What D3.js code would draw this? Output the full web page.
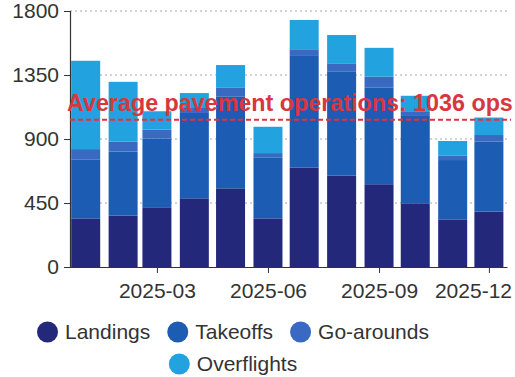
<!DOCTYPE html>
<html>
<head>
<meta charset="utf-8">
<script src="https://cdn.jsdelivr.net/npm/d3@7"></script>
<style>
  html, body { margin: 0; padding: 0; background: #fff; }
  svg { display: block; font-family: "Liberation Sans", Arial, sans-serif; }
</style>
</head>
<body>
<svg id="chart" width="515" height="377"></svg>
<script>
// Monthly operations, stacked by type
const months = ["2025-01","2025-02","2025-03","2025-04","2025-05","2025-06",
                "2025-07","2025-08","2025-09","2025-10","2025-11","2025-12"];
const landings    = [342, 361, 420, 483, 553, 342, 698, 642, 582, 448, 335, 389];
const takeoffs    = [415, 451, 484, 600, 647, 426, 786, 734, 681, 614, 417, 492];
const goArounds   = [ 72,  69,  62,  35,  63,  33,  47,  56,  75,  28,  30,  47];
const overflights = [621, 421, 129, 105, 157, 185, 206, 199, 203, 114, 104, 123];

const seriesNames = ["Landings", "Takeoffs", "Go-arounds", "Overflights"];
const seriesColors = ["#23287a", "#1c5cb3", "#3a69c2", "#22a2de"];

const yTicks = [0, 450, 900, 1350, 1800];
const xTickLabels = ["2025-03", "2025-06", "2025-09", "2025-12"];

const avgPavementOps = 1036;
const avgLabel = "Average pavement operations: " + avgPavementOps + " ops";

const parseMonth = d3.utcParse("%Y-%m");
const fmtMonth = d3.utcFormat("%Y-%m");

const rows = months.map((m, i) => ({
  date: parseMonth(m),
  Landings: landings[i],
  Takeoffs: takeoffs[i],
  "Go-arounds": goArounds[i],
  Overflights: overflights[i]
}));

const svg = d3.select("#chart");
const margin = { left: 70, right: 8, top: 11, bottom: 110 };
const W = 515, H = 377;
const plotBottom = H - margin.bottom;
const tickFont = "21px";

const x = d3.scaleTime()
  .domain([new Date(Date.UTC(2024, 11, 19)), new Date(Date.UTC(2025, 11, 16))])
  .range([margin.left, W - margin.right]);

const y = d3.scaleLinear()
  .domain([0, 1800])
  .range([plotBottom, margin.top]);

const color = d3.scaleOrdinal().domain(seriesNames).range(seriesColors);

// dotted horizontal grid
svg.append("g")
  .selectAll("line")
  .data(yTicks.filter(t => t > 0))
  .join("line")
  .attr("x1", margin.left)
  .attr("x2", W - margin.right)
  .attr("y1", d => y(d))
  .attr("y2", d => y(d))
  .attr("stroke", "#a8a8a8")
  .attr("stroke-width", 1)
  .attr("stroke-dasharray", "2,3");

// stacked bars
const stack = d3.stack().keys(seriesNames);
const layers = stack(rows);
const barW = 29;

svg.append("g")
  .selectAll("g")
  .data(layers)
  .join("g")
  .attr("fill", d => color(d.key))
  .selectAll("rect")
  .data(d => d)
  .join("rect")
  .attr("x", d => x(d.data.date) - barW / 2)
  .attr("width", barW)
  .attr("y", d => y(d[1]))
  .attr("height", d => y(d[0]) - y(d[1]));

// axes
const yAxis = d3.axisLeft(y)
  .tickValues(yTicks)
  .tickFormat(d3.format("d"))
  .tickSize(6)
  .tickPadding(5);
const gy = svg.append("g")
  .attr("transform", `translate(${margin.left},0)`)
  .call(yAxis);

const xAxis = d3.axisBottom(x)
  .tickValues(xTickLabels.map(parseMonth))
  .tickFormat(fmtMonth)
  .tickSize(6)
  .tickSizeOuter(0)
  .tickPadding(10);
const gx = svg.append("g")
  .attr("transform", `translate(0,${plotBottom})`)
  .call(xAxis);

[gx, gy].forEach(g => {
  g.select(".domain").attr("stroke", "#333").attr("stroke-width", 1.2);
  g.selectAll(".tick line").attr("stroke", "#333");
  g.selectAll(".tick text")
    .attr("fill", "#333")
    .style("font-size", tickFont)
    .style("font-family", "'Liberation Sans', Arial, sans-serif");
});

// keep the last month label inside the chart's right edge
gx.selectAll(".tick text").each(function () {
  const tick = this.parentNode;
  const m = /translate\(([-\d.]+)/.exec(tick.getAttribute("transform"));
  const tx = m ? +m[1] : 0;
  const w = this.getComputedTextLength();
  const overflow = tx + w / 2 - (W - 3);
  if (overflow > 0) d3.select(this).attr("x", -overflow);
});

// average line and label
svg.append("line")
  .attr("x1", margin.left)
  .attr("x2", W - 4)
  .attr("y1", y(avgPavementOps))
  .attr("y2", y(avgPavementOps))
  .attr("stroke", "#d9363e")
  .attr("stroke-width", 2)
  .attr("stroke-dasharray", "5,3");

svg.append("text")
  .attr("x", 67)
  .attr("y", y(avgPavementOps) - 9)
  .attr("fill", "#d9363e")
  .style("font-size", "23.3px")
  .style("font-weight", "bold")
  .text(avgLabel);

// legend, centred rows
const legendRows = [seriesNames.slice(0, 3), seriesNames.slice(3)];
const legendCenter = 233;
const legendY = [332, 364];
const r = 10.5, gap = 7, itemGap = 17;
const fontSize = 21;

legendRows.forEach((names, ri) => {
  const g = svg.append("g");
  const items = names.map(n => {
    const it = g.append("g");
    it.append("circle").attr("r", r).attr("cx", r).attr("cy", 0).attr("fill", color(n));
    const t = it.append("text")
      .attr("x", 2 * r + gap)
      .attr("y", 0)
      .attr("dy", "0.35em")
      .attr("fill", "#333")
      .style("font-size", fontSize + "px")
      .text(n);
    const w = 2 * r + gap + t.node().getComputedTextLength();
    return { it, w };
  });
  const total = d3.sum(items, d => d.w) + itemGap * (items.length - 1);
  let cx = legendCenter - total / 2;
  items.forEach(d => {
    d.it.attr("transform", `translate(${cx},${legendY[ri]})`);
    cx += d.w + itemGap;
  });
});
</script>
</body>
</html>
